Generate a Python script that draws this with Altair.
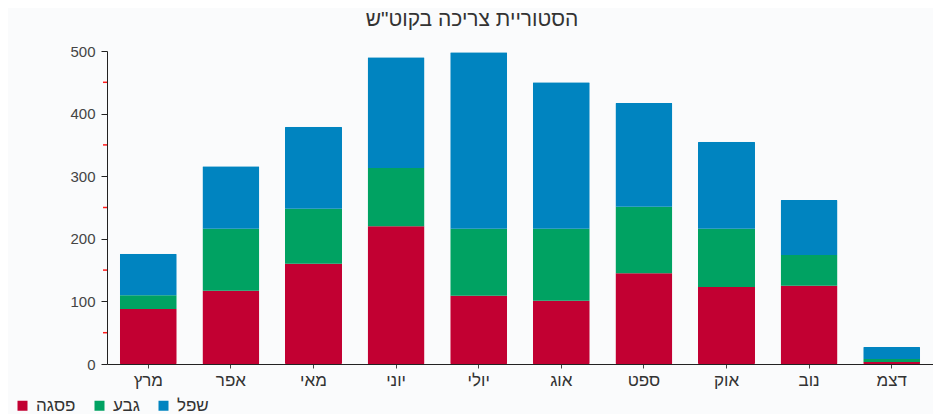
import altair as alt
import pandas as pd

months = ["מרץ", "אפר", "מאי", "יוני", "יולי", "אוג", "ספט", "אוק", "נוב", "דצמ"]
series = ["פסגה", "גבע", "שפל"]
colors = ["#c20032", "#00a262", "#0084c0"]
peak = [88, 117, 160, 220, 109, 101, 145, 123, 125, 3]
shoulder = [22, 99, 88, 93, 107, 115, 106, 93, 49, 5]
offpeak = [66, 100, 131, 177, 282, 234, 166, 139, 88, 19]
minor_ticks = [50, 150, 250, 350, 450]

rows = []
for i, m in enumerate(months):
    for j, (s, vals) in enumerate(zip(series, [peak, shoulder, offpeak])):
        rows.append({"month": m, "series": s, "value": vals[i], "idx": j})
df = pd.DataFrame(rows)
font = "Liberation Sans"

bars = alt.Chart(df).mark_bar(cornerRadius=1).encode(
    x=alt.X("month:N", sort=months, title=None,
            scale=alt.Scale(paddingInner=0.31, paddingOuter=0.155),
            axis=alt.Axis(labelAngle=0, labelFontSize=17, labelColor="#333",
                          labelFont=font, domainColor="#222", tickColor="#444",
                          tickSize=4, labelPadding=4, grid=False)),
    y=alt.Y("value:Q", stack="zero", title=None,
            scale=alt.Scale(domain=[0, 500], nice=False),
            axis=alt.Axis(values=[0, 100, 200, 300, 400, 500], labelFontSize=15,
                          labelColor="#444", labelFont=font, domainColor="#222",
                          tickColor="#222", tickSize=6, labelPadding=6, grid=False)),
    color=alt.Color("series:N", title=None,
                    scale=alt.Scale(domain=series, range=colors),
                    legend=alt.Legend(orient="none", direction="horizontal",
                                      legendX=-93, legendY=346, symbolType="square",
                                      symbolSize=100, symbolStrokeWidth=0,
                                      labelFontSize=17, labelColor="#333",
                                      labelFont=font, columnPadding=15,
                                      labelOffset=5, symbolOffset=0)),
    order=alt.Order("idx:Q", sort="ascending"),
)

minor = alt.Chart(pd.DataFrame({"v": minor_ticks})).mark_rule(
    color="#ff1a1a", strokeWidth=1.5
).encode(
    y="v:Q", x=alt.value(-4), x2=alt.value(0)
)

chart = alt.layer(bars, minor).properties(
    width=826, height=313,
    title=alt.Title("הסטוריית צריכה בקוט\"ש", fontSize=21, font=font,
                    color="#333", fontWeight="normal", dx=-48, offset=14),
    background="#fafbfc",
    padding={"left": 6, "top": 1, "right": 0, "bottom": 0},
).configure_view(stroke=None)

chart.save("out.html", embed_options={"renderer": "svg", "actions": False})
